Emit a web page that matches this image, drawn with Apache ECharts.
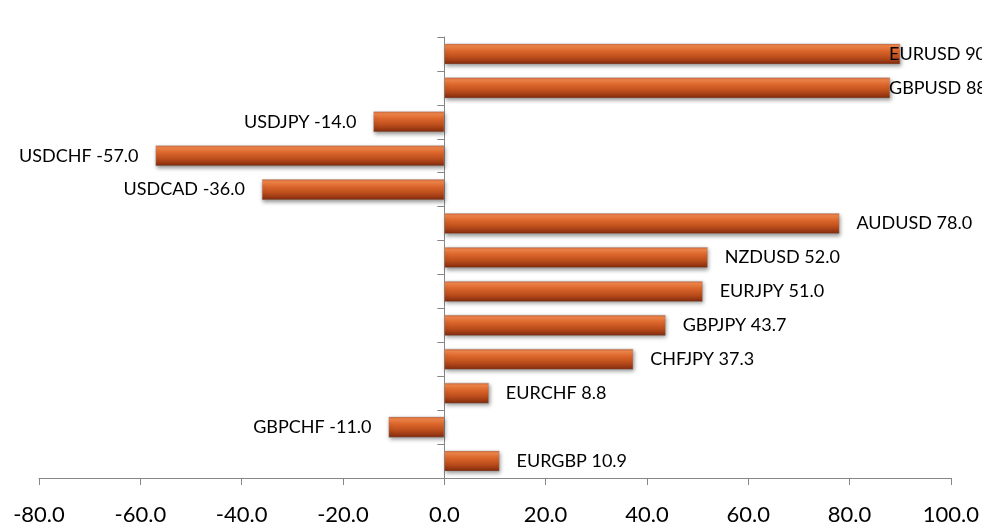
<!DOCTYPE html>
<html>
<head>
<meta charset="utf-8">
<script src="https://cdn.jsdelivr.net/npm/echarts@6/dist/echarts.min.js"></script>
<style>
  html, body { margin: 0; padding: 0; background: #ffffff; }
  #chart { width: 982px; height: 531px; }
</style>
</head>
<body>
<div id="chart"></div>
<script>
// Currency pairs, top to bottom
const pairs = ['EURUSD', 'GBPUSD', 'USDJPY', 'USDCHF', 'USDCAD', 'AUDUSD', 'NZDUSD',
               'EURJPY', 'GBPJPY', 'CHFJPY', 'EURCHF', 'GBPCHF', 'EURGBP'];
// Change per pair
const changes = [90.0, 88.0, -14.0, -57.0, -36.0, 78.0, 52.0, 51.0, 43.7, 37.3, 8.8, -11.0, 10.9];
// Value axis ticks
const xTicks = [-80, -60, -40, -20, 0, 20, 40, 60, 80, 100];

const chart = echarts.init(document.getElementById('chart'), null, { renderer: 'canvas' });

const barFill = new echarts.graphic.LinearGradient(0, 0, 0, 1, [
  { offset: 0.0, color: '#D46538' },
  { offset: 0.12, color: '#F0864A' },
  { offset: 0.35, color: '#DC662C' },
  { offset: 0.65, color: '#BC4E1C' },
  { offset: 0.88, color: '#963612' },
  { offset: 1.0, color: '#76280C' }
]);

const LABEL_GAP = 17;
const font = 'Lato, "Open Sans", sans-serif';

function buildData(offsets) {
  return changes.map((v, i) => ({
    value: v,
    label: {
      position: v >= 0 ? 'right' : 'left',
      offset: offsets ? offsets[i] : [0, 0]
    }
  }));
}

const option = {
  animation: false,
  backgroundColor: '#ffffff',
  grid: { left: 39, right: 30, top: 37, bottom: 53, containLabel: false },
  xAxis: {
    type: 'value',
    min: xTicks[0],
    max: xTicks[xTicks.length - 1],
    interval: 20,
    axisLine: { show: true, lineStyle: { color: '#868686', width: 1 } },
    axisTick: { show: true, length: 7, inside: false, lineStyle: { color: '#868686' } },
    splitLine: { show: false },
    axisLabel: {
      margin: 26,
      color: '#000000',
      fontFamily: font,
      fontSize: 22,
      formatter: v => v.toFixed(1)
    }
  },
  yAxis: {
    type: 'category',
    data: pairs,
    inverse: true,
    axisLine: { show: true, onZero: true, lineStyle: { color: '#868686', width: 1 } },
    axisTick: { show: true, length: 7, inside: false, lineStyle: { color: '#868686' } },
    axisLabel: { show: false },
    splitLine: { show: false }
  },
  series: [{
    type: 'bar',
    data: buildData(null),
    barCategoryGap: '39%',
    itemStyle: {
      color: barFill,
      borderColor: 'rgba(150,150,150,0.6)',
      borderWidth: 0.6,
      shadowColor: 'rgba(0,0,0,0.4)',
      shadowBlur: 4,
      shadowOffsetX: 1,
      shadowOffsetY: 2
    },
    label: {
      show: true,
      distance: LABEL_GAP,
      color: '#000000',
      fontFamily: font,
      fontSize: 18,
      formatter: p => p.name + ' ' + Number(p.value).toFixed(1)
    }
  }]
};

chart.setOption(option);

// Long positive labels are pulled back so they start inside the drawing area
const maxLabelStart = 889;
const offsets = changes.map(v => {
  if (v < 0) return [0, 0];
  const end = chart.convertToPixel({ xAxisIndex: 0 }, v);
  const start = end + LABEL_GAP;
  return start > maxLabelStart ? [maxLabelStart - start, 0] : [0, 0];
});
chart.setOption({ series: [{ data: buildData(offsets) }] });
</script>
</body>
</html>
